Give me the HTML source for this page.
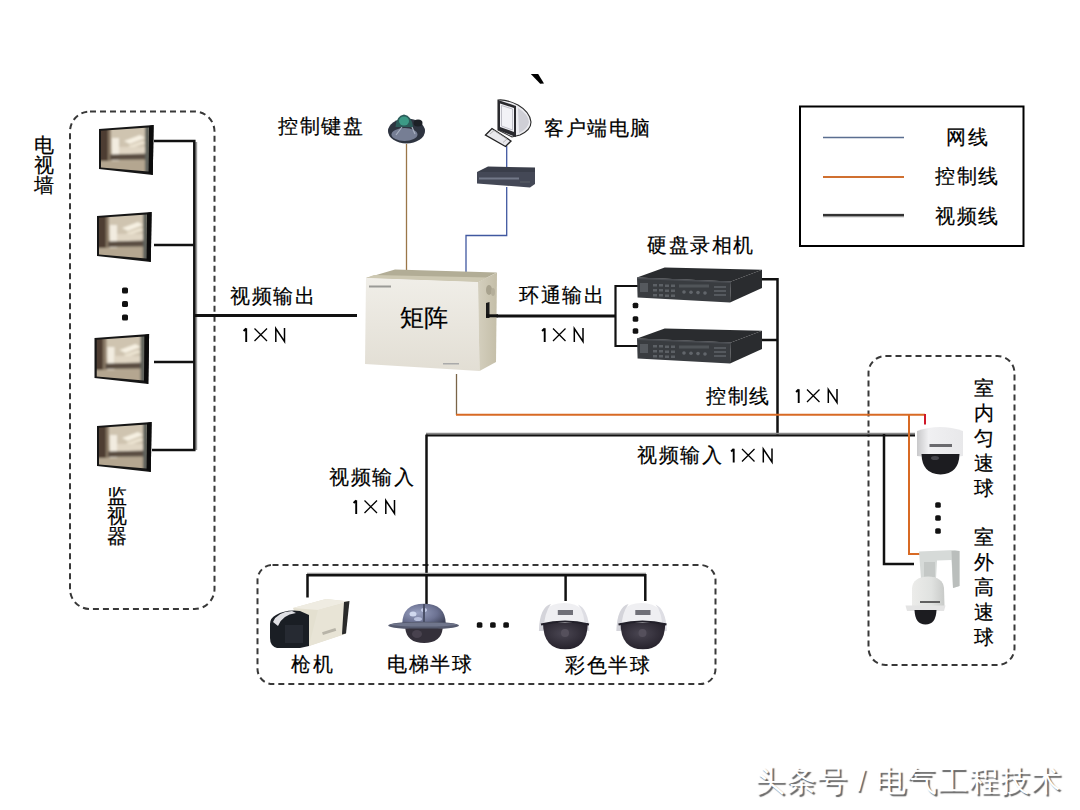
<!DOCTYPE html>
<html><head><meta charset="utf-8">
<style>
html,body{margin:0;padding:0;background:#fff;}
#c{position:relative;width:1080px;height:810px;overflow:hidden;background:#fff;font-family:"Liberation Sans",sans-serif;color:#000;}
.t{position:absolute;font-size:20px;line-height:20px;white-space:nowrap;letter-spacing:1.5px;-webkit-text-stroke:0.2px #000;}
.v{position:absolute;font-size:20px;line-height:20px;width:20px;text-align:center;white-space:normal;-webkit-text-stroke:0.2px #000;}
svg{position:absolute;left:0;top:0;}
</style></head><body>
<div id="c">
<svg width="1080" height="810" viewBox="0 0 1080 810">
<defs>
<linearGradient id="scr" x1="0" y1="0" x2="1" y2="0">
<stop offset="0" stop-color="#4e3e30"/><stop offset="0.25" stop-color="#7a6a58"/><stop offset="0.4" stop-color="#e6dccb"/><stop offset="0.7" stop-color="#c9bca6"/><stop offset="1" stop-color="#a89880"/>
</linearGradient>
<linearGradient id="mfront" x1="0" y1="0" x2="0" y2="1">
<stop offset="0" stop-color="#f0eee8"/><stop offset="1" stop-color="#e2ded4"/>
</linearGradient>
<symbol id="oxn" viewBox="0 0 43 15" overflow="visible">
<path d="M3.2,0.3 V14 M0.6,3 L3.2,0.3" stroke="#000" stroke-width="1.9" fill="none"/>
<path d="M11.5,0.5 L24,13 M24,0.5 L11.5,13" stroke="#000" stroke-width="1.3" fill="none"/>
<path d="M32.8,14 V0.5 L41.5,13.5 V0" stroke="#000" stroke-width="1.5" fill="none"/>
</symbol>
<linearGradient id="mside" x1="0" y1="0" x2="1" y2="0">
<stop offset="0" stop-color="#d4cfbe"/><stop offset="1" stop-color="#c4bea8"/>
</linearGradient>
<linearGradient id="domew" x1="0" y1="0" x2="1" y2="0">
<stop offset="0" stop-color="#c8c8ca"/><stop offset="0.25" stop-color="#f0f0f2"/><stop offset="1" stop-color="#e8e8ea"/>
</linearGradient>
<linearGradient id="domew2" x1="0" y1="0" x2="1" y2="0">
<stop offset="0" stop-color="#ececea"/><stop offset="0.6" stop-color="#e0e2e0"/><stop offset="1" stop-color="#c8cac8"/>
</linearGradient>
<radialGradient id="elev" cx="0.35" cy="0.45" r="0.75">
<stop offset="0" stop-color="#9aa2c2"/><stop offset="0.6" stop-color="#6c7292"/><stop offset="1" stop-color="#3e4258"/>
</radialGradient>
<radialGradient id="cdark" cx="0.45" cy="0.4" r="0.6">
<stop offset="0" stop-color="#4a4652"/><stop offset="1" stop-color="#26222c"/>
</radialGradient>
<clipPath id="scrclip"><polygon points="101,130.8 149,127.5 148.5,171.5 101,167.5"/></clipPath>
<filter id="bl" filterUnits="userSpaceOnUse" x="90" y="115" width="70" height="70"><feGaussianBlur stdDeviation="0.8"/></filter>
<g id="mon">
<polygon points="99,129 153.6,125 152.8,175 99,169" fill="#161616"/>
<polygon points="149,126 153.6,125 152.8,175 148.5,173" fill="#0c0c0c"/>
<g clip-path="url(#scrclip)"><g filter="url(#bl)">
<rect x="98" y="125" width="55" height="50" fill="#c4b8a2"/>
<polygon points="98,125 153,125 153,148 98,150" fill="#cfc4b0"/>
<polygon points="98,125 108,127 108,172 98,172" fill="#4e3e30"/>
<rect x="108" y="128" width="3" height="42" fill="#8a7a66"/>
<rect x="112" y="138" width="7" height="26" fill="#f2ece0"/>
<polygon points="124,141 140,135 145,138 130,144" fill="#f6f0e2"/>
<polygon points="128,146 142,141 146,143 132,148" fill="#ece4d2"/>
<rect x="119" y="147" width="30" height="7" fill="#e0d6c4"/>
<polygon points="110,154.5 149,153.5 149,159.5 110,160" fill="#5a4e42"/>
<polygon points="98,161 153,160 153,175 98,175" fill="#b4a690"/>
<rect x="145" y="125" width="5" height="50" fill="#5e625c"/>
</g></g>
</g>
<g id="dvr">
<polygon points="637,277.4 664.7,267.6 762,269.7 731,281.5" fill="#2a2c2f"/>
<polygon points="637,277.4 731,281.5 730,302.4 637.6,297.5" fill="#393c40"/>
<polygon points="731,281.5 762,269.7 762,288 730,302.4" fill="#2a2c2f"/>
<polygon points="637,277.4 731,281.5 731,283 637,279" fill="#4a4d52"/>
<rect x="640" y="283" width="8" height="9" fill="#55595e"/>
<g fill="#5c6065">
<rect x="653" y="284" width="4" height="2.5"/><rect x="659" y="284" width="4" height="2.5"/><rect x="665" y="284.5" width="4" height="2.5"/><rect x="671" y="284.5" width="4" height="2.5"/>
<rect x="653" y="289" width="4" height="2.5"/><rect x="659" y="289" width="4" height="2.5"/><rect x="665" y="289.5" width="4" height="2.5"/><rect x="671" y="289.5" width="4" height="2.5"/>
<rect x="653" y="294" width="4" height="2.5"/><rect x="659" y="294" width="4" height="2.5"/><rect x="665" y="294.5" width="4" height="2.5"/><rect x="671" y="294.5" width="4" height="2.5"/>
</g>
<rect x="679" y="284.5" width="30" height="3" fill="#505458"/>
<g fill="#62666b">
<circle cx="684" cy="292" r="1.8"/><circle cx="691" cy="292.3" r="1.8"/><circle cx="698" cy="292.6" r="1.8"/><circle cx="705" cy="293" r="1.8"/>
</g>
<g fill="#55595e">
<rect x="714" y="286" width="12" height="2"/><rect x="714" y="290" width="12" height="2"/><rect x="714" y="294" width="12" height="2"/>
</g>
</g>
<g id="cdome">
<path d="M538.9,631 Q539.5,603 564,603 Q588.5,603 589.3,631 Z" fill="#efeff2"/>
<path d="M538.9,631 Q539.5,607 551,604 Q544,613 543.5,631 Z" fill="#d4d4da"/>
<path d="M578,604.5 Q588.5,609 589.3,631 L585,631 Q585,612 578,604.5 Z" fill="#dedee4"/>
<rect x="557.8" y="610" width="15.2" height="5" fill="#707078"/>
<path d="M543,623 L587.8,623 Q587.5,649.3 565.4,649.3 Q543.3,649.3 543,623 Z" fill="url(#cdark)"/>
<path d="M541,624.5 Q565,618.5 589,624.5" stroke="#22202a" stroke-width="2.2" fill="none"/>
<circle cx="565" cy="633" r="4" fill="#55505c"/>
</g>
</defs>
<!-- dashed boxes -->
<g fill="none" stroke="#383838" stroke-width="2" stroke-dasharray="6 4">
<rect x="70" y="111.5" width="144.5" height="497.5" rx="20"/>
<rect x="257.5" y="565" width="458" height="119" rx="15"/>
<rect x="868.5" y="356" width="146" height="309" rx="17"/>
</g>
<!-- legend -->
<rect x="800" y="106.5" width="223.5" height="139.5" fill="none" stroke="#000" stroke-width="2"/>
<line x1="823" y1="137.5" x2="904" y2="137.5" stroke="#5a6e90" stroke-width="1.5"/>
<line x1="823" y1="177" x2="904" y2="177" stroke="#d07030" stroke-width="2"/>
<line x1="823" y1="215.5" x2="904" y2="215.5" stroke="#999" stroke-width="3.5"/>
<line x1="823" y1="215" x2="904" y2="215" stroke="#333" stroke-width="2"/>
<!-- video lines -->
<g stroke="#111" stroke-width="2.5" fill="none">
<line x1="196.2" y1="142" x2="196.2" y2="450" stroke="#9a9a9a" stroke-width="2"/>
<polyline points="154,141 194.3,141 194.3,450 152,450"/>
<line x1="154" y1="245" x2="195" y2="245"/>
<line x1="154" y1="362" x2="195" y2="362"/>
<line x1="195" y1="315.5" x2="357" y2="315.5" stroke-width="3"/>
<line x1="487" y1="316" x2="615.5" y2="316" stroke-width="3"/>
<polyline points="644,286 615.5,286 615.5,346 644,346" stroke-width="2.2"/>
<polyline points="762,279.3 777.5,279.3 777.5,435"/>
<line x1="762" y1="340" x2="777.5" y2="340"/>
<line x1="426" y1="433.8" x2="915" y2="433.8" stroke="#8a8a8a" stroke-width="2"/>
<line x1="426" y1="435.5" x2="915" y2="435.5" stroke-width="1.8"/>
<polyline points="426.5,604 426.5,434.6"/>
<polyline points="884,434 884,564 914,564"/>
<line x1="307" y1="573.6" x2="646" y2="573.6" stroke="#9a9a9a" stroke-width="1.6"/>
<polyline points="307.5,597.5 307.5,575.2 645.3,575.2 645.3,601"/>
<line x1="565.6" y1="575.2" x2="565.6" y2="601"/>
</g>
<!-- control lines -->
<line x1="406.5" y1="144" x2="406.5" y2="270" stroke="#9a7648" stroke-width="1.3"/>
<line x1="456.5" y1="374" x2="456.5" y2="415" stroke="#7a6448" stroke-width="1.3"/>
<g stroke="#d86a24" stroke-width="2" fill="none">
<polyline points="456,414.8 925,414.8"/>
<polyline points="909,415 909,554 921,554"/>
</g>
<line x1="925" y1="414" x2="925" y2="424.5" stroke="#d01828" stroke-width="2"/>
<!-- network lines -->
<g stroke="#4058a0" stroke-width="1.3" fill="none">
<line x1="506.7" y1="146" x2="506.7" y2="168"/>
<polyline points="506.7,187 506.7,235.5 466,235.5 466,275"/>
</g>
<!-- dots -->
<g fill="#111">
<rect x="122.0" y="287.5" width="6.0" height="6.0" rx="1.6"/><rect x="122.0" y="301.0" width="6.0" height="6.0" rx="1.6"/><rect x="122.0" y="314.5" width="6.0" height="6.0" rx="1.6"/>
<rect x="632.7" y="302.7" width="5.6" height="5.6" rx="1.6"/><rect x="632.7" y="316.2" width="5.6" height="5.6" rx="1.6"/><rect x="632.7" y="328.2" width="5.6" height="5.6" rx="1.6"/>
<rect x="935.2" y="502.2" width="5.6" height="5.6" rx="1.6"/><rect x="935.2" y="515.2" width="5.6" height="5.6" rx="1.6"/><rect x="935.2" y="528.2" width="5.6" height="5.6" rx="1.6"/>
<rect x="476.8" y="622.2" width="5.6" height="5.6" rx="1.6"/><rect x="490.1" y="622.2" width="5.6" height="5.6" rx="1.6"/><rect x="503.3" y="622.2" width="5.6" height="5.6" rx="1.6"/>
</g>
<!-- backtick -->
<polygon points="530.8,74 538.2,74 544,83.5 540.2,83.8" fill="#000"/>
<!-- monitors -->
<use href="#mon" x="0" y="0"/>
<use href="#mon" x="-2" y="87"/>
<use href="#mon" x="-4.5" y="209"/>
<use href="#mon" x="-2" y="297"/>
<!-- keyboard -->
<g>
<ellipse cx="406.5" cy="131" rx="18.5" ry="12.5" fill="#2e3440"/>
<ellipse cx="404.5" cy="134.5" rx="13" ry="6.5" fill="#767e94"/>
<path d="M396,135 L402,127 M412,127 L415,134" stroke="#a8b0c0" stroke-width="1.2" fill="none"/>
<path d="M395.5,127 Q396,116 404,114.5 Q412,116 413,127 Z" fill="#2c5c5a"/>
<ellipse cx="404" cy="121" rx="5" ry="4.5" fill="#3c9a86"/>
<ellipse cx="418" cy="123" rx="4.5" ry="3.5" fill="#1c2026"/>
</g>
<!-- computer -->
<g>
<path d="M498,100 Q506,99 518,105 Q530,112 531,122 Q531,130 520,135 L512,137 L498,130 Z" fill="#ececf0" stroke="#2a2a2a" stroke-width="1.1"/>
<path d="M518,108 Q528,114 529,122 Q528,129 519,133 Z" fill="#cfcfd6"/>
<path d="M498,100 L516,106 L516,137 L498,130 Z" fill="#2a2a2e"/>
<path d="M500,103.5 L514,108 L514,132 L500,127 Z" fill="#f2f2f6"/>
<path d="M501.5,105.5 L512.5,109 L512.5,130 L501.5,126 Z" fill="none" stroke="#b0b0ba" stroke-width="0.8"/>
<path d="M485.5,135 L492,128.5 L511,141 L505.5,146.5 Z" fill="#e8e8ec" stroke="#222" stroke-width="1.3"/>
<path d="M490,134 L494,130.5 L507,139 L503,142.5" stroke="#aaa" stroke-width="0.8" fill="none"/>
</g>
<!-- switch -->
<g>
<path d="M477,172 L488,166.5 L535,167.5 L535,172 Z" fill="#3a3e4a"/>
<path d="M477,172 L535,172 L535,184 L530,187.5 L477,183.5 Z" fill="#444856"/>
<rect x="479" y="177.5" width="40" height="2" fill="#727888"/>
<rect x="520" y="181" width="10" height="2" fill="#50545e"/>
</g>
<!-- matrix -->
<g>
<polygon points="395,269.5 497,272.5 478,282 366,278" fill="#b2ad96"/>
<polygon points="374,275 488,277.5 478,282 366,278" fill="#cdc8b2"/>
<polygon points="366,278 478,282 479.5,371 365,364" fill="url(#mfront)"/>
<polygon points="478,282 497,272.5 496,362 479.5,371" fill="url(#mside)"/>
<rect x="369" y="285.5" width="22" height="2" fill="#9a9a96"/>
<rect x="443" y="363" width="16" height="1.5" fill="#aaa"/>
<ellipse cx="489" cy="290" rx="3" ry="5" fill="#a8a28e"/>
<ellipse cx="493" cy="292" rx="2" ry="4" fill="#b4ae9a"/>
<path d="M486,303 L489.5,302 L489.5,318 L486,318 Z" fill="#1a1a1a"/>
<line x1="486" y1="315.8" x2="498" y2="315.8" stroke="#111" stroke-width="3"/>
</g>
<!-- DVRs -->
<use href="#dvr" x="0" y="0"/>
<use href="#dvr" x="0" y="61"/>
<!-- indoor dome -->
<g>
<path d="M917,431 Q940,423 963,431 L963,456 Q940,459 917,456 Z" fill="url(#domew)"/>
<rect x="929.5" y="444" width="22.5" height="3" fill="#6a6a6e"/>
<path d="M921.5,454 L959.5,454 Q959,474 940.5,474.5 Q922,474 921.5,454 Z" fill="#1c1c20"/>
<ellipse cx="935" cy="458" rx="4" ry="2" fill="#46464c"/>
</g>
<!-- outdoor dome -->
<g>
<path d="M919,551.5 L955,550 L959.5,551 L959.5,586 L953,588 L951.5,560 L937,560.5 L936,579 L921,579 Z" fill="#d6dad8"/>
<path d="M951.5,551 L959.5,551 L959.5,586 L953,588 Z" fill="#babebc"/>
<path d="M924,562 L935,562 L935,577 L924,577 Z" fill="#c4c8c6"/>
<path d="M912,606 L912,588 Q913,577 928,576.5 Q943,577 944,588 L944.5,606 Z" fill="url(#domew2)"/>
<rect x="920" y="601" width="20" height="2" fill="#606060"/>
<path d="M905.5,605.5 L945.5,605.5 L944,611 L907,611 Z" fill="#e4e4e4"/>
<path d="M914.5,610 L936.5,610 Q936,624.5 925.5,624.5 Q915,624.5 914.5,610 Z" fill="#1c1c20"/>
</g>
<!-- bullet camera -->
<g>
<polygon points="293,608 326,599 349,601.5 345,634 309,646" fill="#e4e0d0"/>
<polygon points="293,608 326,599 349,601.5 318,610" fill="#efece2"/>
<polygon points="318,610 349,601.5 345,634 309,646" fill="#e8e4d6"/>
<polygon points="344,602 349.5,601 346,633.5 342,634.5" fill="#2a2a2a"/>
<rect x="322" y="630" width="14" height="3" fill="#b8b4a8" transform="rotate(-18 329 631)"/>
<path d="M276,615 Q286,609 300,611 L309,615 L309,646 L300,648 L277,648 Q270,646 270,638 L270,624 Q270,618 276,615 Z" fill="#1a1e24"/>
<path d="M273,622 Q277,612 292,611 L296,613 Q282,615 278,626 Z" fill="#e0e0e4"/>
<rect x="285" y="625" width="18" height="18" fill="#262a32"/>
</g>
<!-- elevator dome -->
<g>
<path d="M402.2,624 Q402.5,603.8 424,603.8 Q445.5,603.8 445.8,624 Z" fill="url(#elev)"/>
<ellipse cx="423.6" cy="625.5" rx="35.4" ry="3.8" fill="#555a6e"/>
<ellipse cx="423.6" cy="624.6" rx="33" ry="2" fill="#70768c"/>
<path d="M405.3,628.5 L442.7,628.5 Q441,643 424,643 Q407,643 405.3,628.5 Z" fill="#34303a"/>
<ellipse cx="417" cy="634" rx="5" ry="4" fill="#48424e"/>
<ellipse cx="413" cy="614" rx="3.5" ry="2.5" fill="#d0d8ee"/>
<ellipse cx="424" cy="610" rx="3" ry="2" fill="#c0c8e4"/>
<ellipse cx="418" cy="619" rx="4" ry="2" fill="#b8c0dc"/>
<rect x="423" y="604" width="2" height="18" fill="#4a5068"/>
</g>
<!-- color domes -->
<use href="#cdome" x="0" y="0"/>
<use href="#cdome" x="77.5" y="0"/>
<use href="#oxn" x="243" y="328" width="43" height="15"/>
<use href="#oxn" x="541.5" y="328" width="43" height="15"/>
<use href="#oxn" x="795.5" y="389" width="43" height="15"/>
<use href="#oxn" x="730.5" y="448.5" width="43" height="15"/>
<use href="#oxn" x="353" y="500" width="43" height="15"/>
</svg>

<!-- text -->
<div class="v" style="left:34px;top:135px">电视墙</div>
<div class="v" style="left:107px;top:486px">监视器</div>
<div class="t" style="left:278px;top:116px">控制键盘</div>
<div class="t" style="left:544px;top:118px">客户端电脑</div>
<div class="t" style="left:647px;top:235px">硬盘录相机</div>
<div class="t" style="left:230px;top:286px">视频输出</div>
<div class="t" style="left:399.5px;top:306px;font-size:24px;line-height:24px;letter-spacing:0.5px">矩阵</div>
<div class="t" style="left:519px;top:285px">环通输出</div>
<div class="t" style="left:706px;top:386px">控制线</div>
<div class="t" style="left:637px;top:445px">视频输入</div>
<div class="t" style="left:329px;top:467px">视频输入</div>
<div class="t" style="left:291px;top:654px">枪机</div>
<div class="t" style="left:387px;top:654px">电梯半球</div>
<div class="t" style="left:565px;top:655px">彩色半球</div>
<div class="v" style="left:974px;top:376px;line-height:25px">室内匀速球</div>
<div class="v" style="left:974px;top:525px;line-height:25px">室外高速球</div>
<div class="t" style="left:946px;top:127px">网线</div>
<div class="t" style="left:935px;top:166px">控制线</div>
<div class="t" style="left:935px;top:206px">视频线</div>
<div class="t" style="left:755px;top:765px;font-size:30px;line-height:32px;letter-spacing:1px;-webkit-text-stroke:0;color:#fff;text-shadow:1.5px 1.5px 1px #666">头条号 / 电气工程技术</div>
</div>
</body></html>
